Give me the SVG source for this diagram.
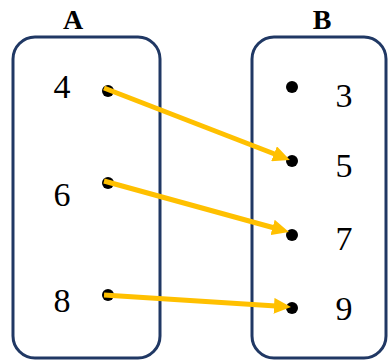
<svg xmlns="http://www.w3.org/2000/svg" width="390" height="360" viewBox="0 0 390 360">
<style>
.box{fill:none;stroke:#203864;stroke-width:3}
.t{font-family:"Liberation Serif","Times New Roman",serif;font-size:34px;fill:#000;text-anchor:middle}
.h{font-family:"Liberation Serif","Times New Roman",serif;font-size:28px;font-weight:bold;fill:#000;text-anchor:middle}
.dot{fill:#000}
.arr{stroke:#FFC000;stroke-width:5;fill:none;marker-end:url(#ah)}
</style>
<defs>
<marker id="ah" markerUnits="userSpaceOnUse" viewBox="0 0 17 16" refX="2" refY="8" markerWidth="17" markerHeight="16" orient="auto">
<path d="M0,0 L17,8 L0,16 z" fill="#FFC000"/>
</marker>
</defs>
<g id="setA">
<rect class="box" x="13" y="37" width="147" height="321" rx="22"/>
<text class="h" x="73" y="29">A</text>
</g>
<g id="setB">
<rect class="box" x="252" y="37" width="134" height="321" rx="22"/>
<text class="h" x="322" y="29">B</text>
</g>
<g id="a4"><text class="t" x="62" y="98">4</text><circle class="dot" cx="108" cy="91" r="6"/></g>
<g id="a6"><text class="t" x="62" y="206">6</text><circle class="dot" cx="108" cy="183" r="6"/></g>
<g id="a8"><text class="t" x="62" y="312">8</text><circle class="dot" cx="108" cy="295" r="6"/></g>
<g id="b3"><circle class="dot" cx="292" cy="87" r="6"/><text class="t" x="344" y="107">3</text></g>
<g id="b5"><circle class="dot" cx="292" cy="161" r="6"/><text class="t" x="344" y="177">5</text></g>
<g id="b7"><circle class="dot" cx="292" cy="235" r="6"/><text class="t" x="344" y="250">7</text></g>
<g id="b9"><circle class="dot" cx="292" cy="308" r="6"/><text class="t" x="344" y="320">9</text></g>
<g id="connectors">
<line class="arr" x1="104" y1="88" x2="275.9" y2="154.5"/>
<line class="arr" x1="104" y1="181" x2="274.5" y2="228"/>
<line class="arr" x1="104" y1="295" x2="276" y2="306"/>
</g>
</svg>
